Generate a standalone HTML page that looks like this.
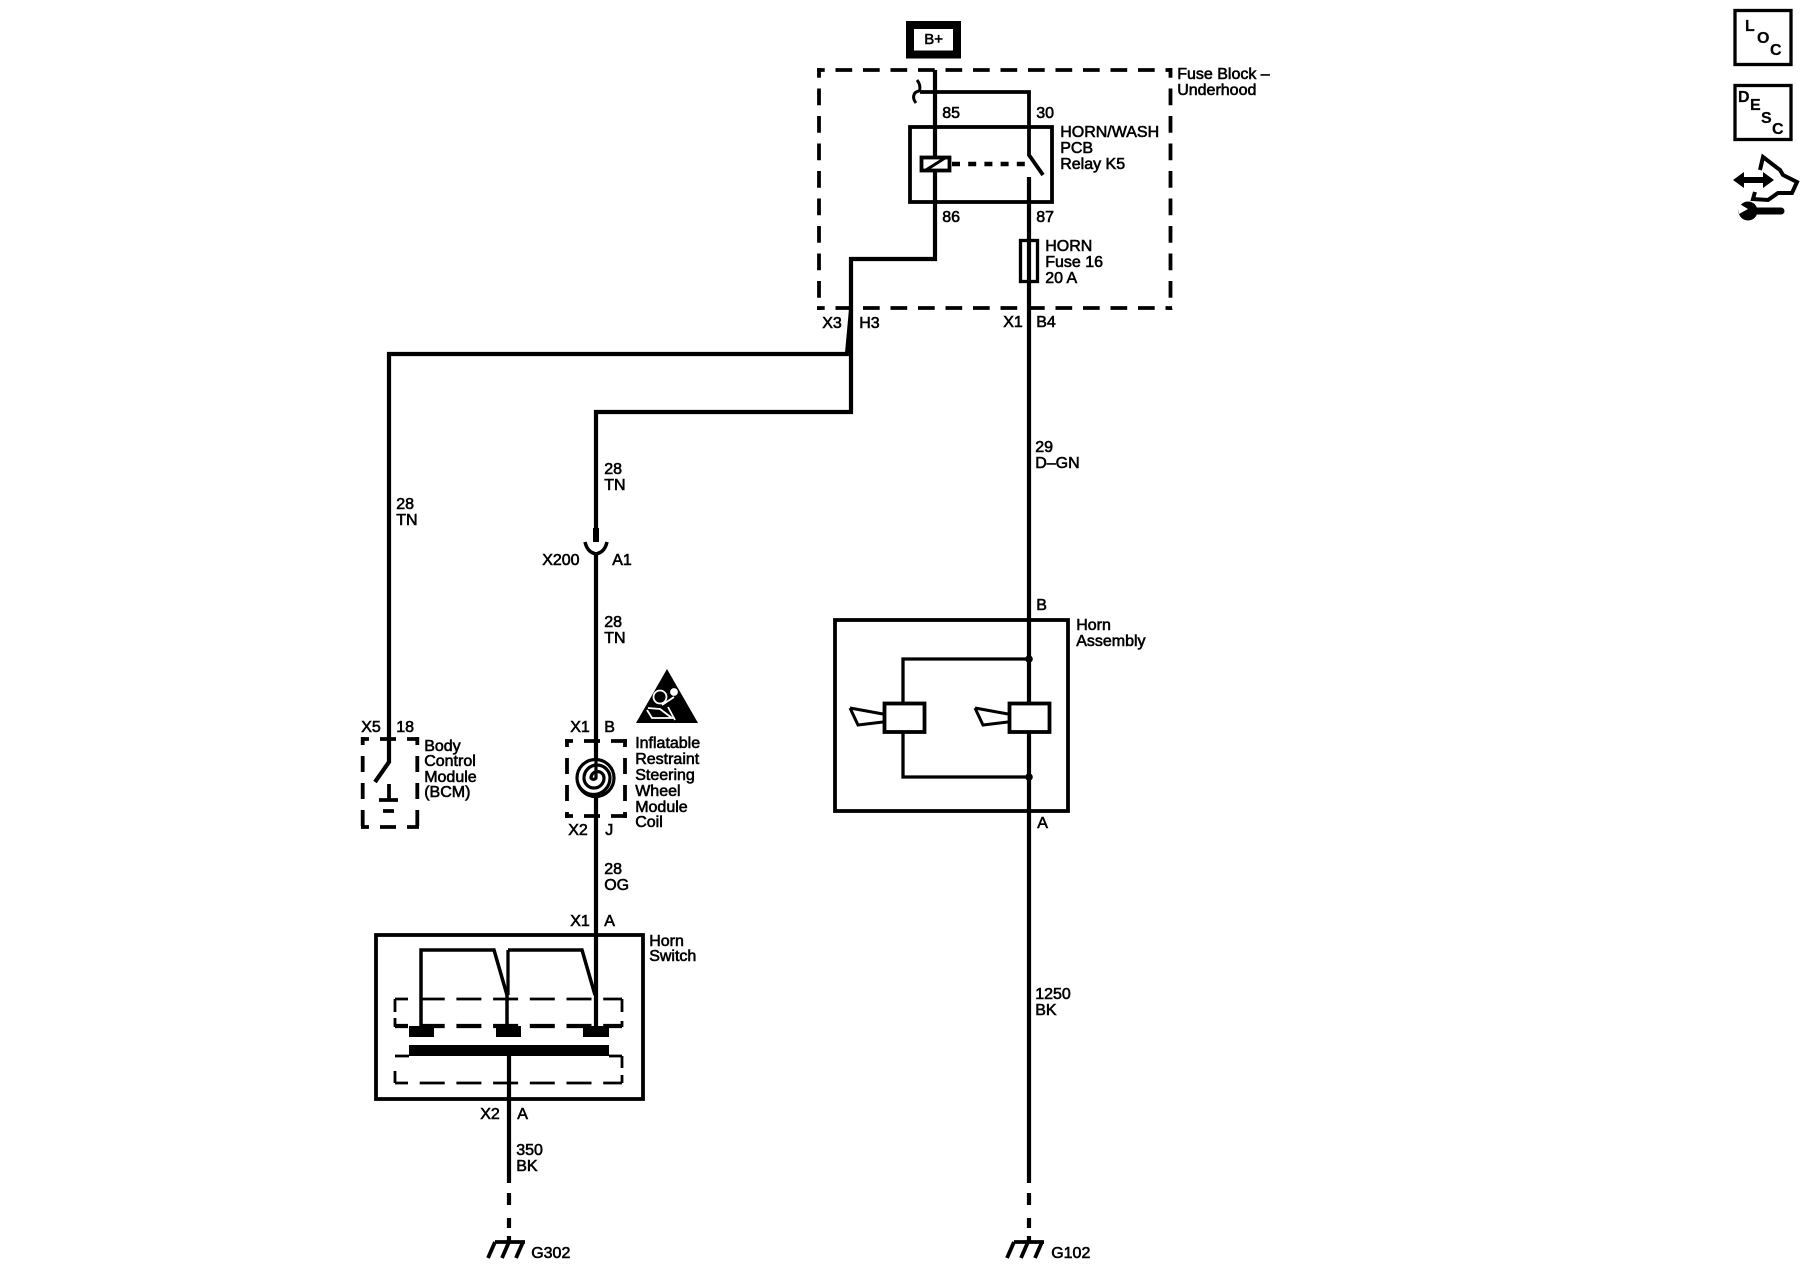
<!DOCTYPE html>
<html><head><meta charset="utf-8"><style>
html,body{margin:0;padding:0;background:#fff}
svg{display:block}
text{font-family:"Liberation Sans",sans-serif;font-size:16px;fill:#000;stroke:#000;stroke-width:.6px}
.b{font-weight:bold;font-size:16px;stroke-width:.2px}
</style></head><body>
<svg width="1800" height="1280" viewBox="0 0 1800 1280" xmlns="http://www.w3.org/2000/svg">
<rect width="1800" height="1280" fill="#fff"/>
<g fill="none" stroke="#000" stroke-linecap="butt">
<!-- B+ -->
<rect x="910" y="25" width="47" height="29.500" stroke-width="8"/>
<!-- Fuse block dashed -->
<g stroke-width="3.800" stroke-dasharray="16.700 10.800">
<path d="M817 70H1172" stroke-dashoffset="9"/>
<path d="M817 308H1172" stroke-dashoffset="9"/>
<path d="M819 68V310" stroke-dashoffset="7"/>
<path d="M1170.500 68V310" stroke-dashoffset="7"/>
</g>
<!-- fuse block wiring -->
<path d="M935 70V259H851V354" stroke-width="4.200"/>
<path d="M920 92H1029V155L1043 175" stroke-width="3.800"/>
<path d="M917 80C921 85 920 90 919 91C913 92 912 98 916 103" stroke-width="3"/>
<path d="M1029 177V1183M1029 1193V1205M1029 1218V1228M1029 1236V1243" stroke-width="4.200"/>
<rect x="910" y="127" width="142" height="75" stroke-width="3.800"/>
<rect x="921.500" y="157.500" width="28" height="13" stroke-width="3.800" fill="#fff"/>
<path d="M926 170L945 158" stroke-width="3"/>
<path d="M952 164H1029" stroke-width="4.500" stroke-dasharray="8 8.200"/>
<rect x="1020.500" y="240.500" width="17" height="41" stroke-width="3.300"/>
<!-- branch to BCM -->
<path d="M851 310L847 354H389V762L375 782" stroke-width="4.200"/>
<path d="M851 354V412H596V528" stroke-width="4.200"/>
<path d="M596 528V542" stroke-width="6"/>
<path d="M585 542C587 551 592 553 596 554C600 553 605 551 607 542" stroke-width="3.500"/>
<path d="M596 554V760M596 795V1026" stroke-width="4.200"/>
<!-- BCM module -->
<g stroke-width="3.800" stroke-dasharray="16 11">
<path d="M361 739H419" stroke-dashoffset="8"/>
<path d="M361 827H419" stroke-dashoffset="8"/>
<path d="M362.700 737V829" stroke-dashoffset="8"/>
<path d="M417.300 737V829" stroke-dashoffset="8"/>
</g>
<path d="M389 784V800" stroke-width="3.800"/>
<path d="M379 800H398M383 811H394" stroke-width="3.800"/>
<!-- coil module -->
<g stroke-width="3.800" stroke-dasharray="16 11">
<path d="M565 741H627" stroke-dashoffset="8"/>
<path d="M565 816H627" stroke-dashoffset="8"/>
<path d="M567 739V818" stroke-dashoffset="8"/>
<path d="M625 739V818" stroke-dashoffset="8"/>
</g>
<path d="M596 758V778A3 3 0 0 1 591 778A6.500 6.500 0 0 1 604 778A10 10 0 0 1 584 778A13 13 0 0 1 610 778A16.500 16.500 0 0 1 577 778A18.500 18.500 0 0 1 614 778A18.500 18.500 0 0 1 577 778" stroke-width="3.200"/>
<!-- horn switch -->
<rect x="376" y="935" width="267" height="164" stroke-width="3.800"/>
<path d="M421 1026V950H494L507 995V1026M508 950H582L595 995" stroke-width="3.500"/>
<path d="M508 995V950" stroke-width="3.300"/>
<g stroke-width="2.800" stroke-dasharray="25 11.700">
<path d="M395 999H622" stroke-dashoffset="12"/>
<path d="M395 1083H622" stroke-dashoffset="12"/>
</g>
<path d="M395 999V1012M395 1018V1027M622 999V1012M622 1021V1027M622 1056V1068M395 1071V1083M622 1075V1083M395 1056H409M609 1056H622" stroke-width="2.800"/>
<path d="M395 1026H622" stroke-width="4.200" stroke-dasharray="25 11.700" stroke-dashoffset="12"/>
<path d="M509 1056V1183M509 1193V1205M509 1218V1228M509 1236V1243" stroke-width="4.200"/>
<!-- grounds -->
<path d="M495 1242H525M495 1242L488 1258M509 1242L502 1258M523 1242L516 1258" stroke-width="3.800"/>
<path d="M1014 1242H1044M1014 1242L1007 1258M1028 1242L1021 1258M1042 1242L1035 1258" stroke-width="3.800"/>
<!-- horn assembly -->
<rect x="835" y="620" width="233" height="191" stroke-width="3.800"/>
<path d="M903 703V659H1029M903 733V777H1029" stroke-width="3.300"/>
<rect x="884.500" y="703.500" width="40" height="28.500" stroke-width="3.800" fill="#fff"/>
<rect x="1009.500" y="703.500" width="40" height="28.500" stroke-width="3.800" fill="#fff"/>
<path d="M850 708L883 714M883 722L858 725L850 708M975 708L1008 714M1008 722L983 725L975 708" stroke-width="3"/>
<!-- icons -->
<rect x="1735" y="10.500" width="56" height="54" stroke-width="3.300"/>
<rect x="1735" y="85.500" width="56" height="54" stroke-width="3.300"/>
<path d="M1760 170L1763 157L1780 170L1783 175L1797 182L1792 193L1778 193L1768 200L1753 199L1755 192" stroke-width="4"/>
<path d="M1752 211H1781" stroke-width="7" stroke-linecap="round"/>
</g>
<g fill="#000">
<circle cx="1029" cy="659" r="3.800"/><circle cx="1029" cy="777" r="3.800"/>
<rect x="409" y="1026" width="25" height="11"/><rect x="496" y="1026" width="25" height="11"/><rect x="583" y="1026" width="26" height="11"/>
<rect x="409" y="1045" width="200" height="11"/>
<path d="M1733 180L1744 172V177H1763V172L1774 180L1763 188V183H1744V188Z"/>
<circle cx="1748" cy="211" r="9.500"/>
<path d="M1738 203L1748 209L1739 214Z" fill="#fff"/>
<!-- airbag triangle -->
<path d="M667 669L698 723H636Z"/>
</g>
<g fill="none" stroke="#fff" stroke-width="1.800">
<circle cx="660" cy="697" r="6.500"/>
<circle cx="674" cy="692" r="3" fill="#fff"/>
<path d="M648 708L660 709L672 718H652L647 710M662 705L674 697M668 707L675 720"/>
</g>
<g transform="translate(-0.8 0)">
<text x="925" y="44" style="font-size:15px">B+</text>
<text x="1178" y="79">Fuse Block –</text><text x="1178" y="95">Underhood</text>
<text x="943" y="118">85</text><text x="1037" y="118">30</text>
<text x="1061" y="137">HORN/WASH</text><text x="1061" y="153">PCB</text><text x="1061" y="169">Relay K5</text>
<text x="943" y="222">86</text><text x="1037" y="222">87</text>
<text x="1046" y="251">HORN</text><text x="1046" y="267">Fuse 16</text><text x="1046" y="283">20 A</text>
<text x="823" y="328">X3</text><text x="860" y="328">H3</text>
<text x="1004" y="327">X1</text><text x="1037" y="327">B4</text>
<text x="397" y="509">28</text><text x="397" y="525">TN</text>
<text x="605" y="474">28</text><text x="605" y="490">TN</text>
<text x="543" y="565">X200</text><text x="613" y="565">A1</text>
<text x="605" y="627">28</text><text x="605" y="643">TN</text>
<text x="362" y="732">X5</text><text x="397" y="732">18</text>
<text x="425" y="751">Body</text><text x="425" y="766">Control</text><text x="425" y="782">Module</text><text x="425" y="797">(BCM)</text>
<text x="571" y="732">X1</text><text x="605" y="732">B</text>
<text x="636" y="748">Inflatable</text><text x="636" y="764">Restraint</text><text x="636" y="780">Steering</text><text x="636" y="796">Wheel</text><text x="636" y="812">Module</text><text x="636" y="827">Coil</text>
<text x="569" y="835">X2</text><text x="606" y="835">J</text>
<text x="605" y="874">28</text><text x="605" y="890">OG</text>
<text x="571" y="926">X1</text><text x="605" y="926">A</text>
<text x="650" y="946">Horn</text><text x="650" y="961">Switch</text>
<text x="481" y="1119">X2</text><text x="518" y="1119">A</text>
<text x="517" y="1155">350</text><text x="517" y="1171">BK</text>
<text x="532" y="1258">G302</text>
<text x="1036" y="452">29</text><text x="1036" y="468">D–GN</text>
<text x="1037" y="610">B</text>
<text x="1077" y="630">Horn</text><text x="1077" y="646">Assembly</text>
<text x="1038" y="828">A</text>
<text x="1036" y="999">1250</text><text x="1036" y="1015">BK</text>
<text x="1052" y="1258">G102</text>
</g>
<text class="b" x="1745" y="31">L</text><text class="b" x="1757" y="43">O</text><text class="b" x="1770" y="55">C</text>
<text class="b" x="1738" y="102">D</text><text class="b" x="1750" y="110">E</text><text class="b" x="1761" y="123">S</text><text class="b" x="1772" y="134">C</text>
</svg>
</body></html>
